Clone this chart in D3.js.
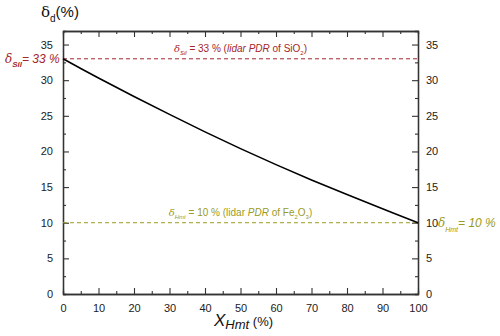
<!doctype html>
<html>
<head>
    <script src="https://d3js.org/d3.v7.min.js"></script>
    <style>
      body { margin: 0; background: #fff; }
      text { font-family: "Liberation Sans", Arial, sans-serif; }
    </style>
</head>
<body>
    <svg id="chart" width="500" height="336"></svg>
    <script>
        // mixing fraction of hematite (%) and resulting depolarization (%)
        const xHmt = [0, 10, 20, 30, 40, 50, 60, 70, 80, 90, 100];
        const deltaD = [33, 30.3, 27.7, 25.2, 22.75, 20.4, 18.15, 16.0, 13.95, 11.95, 10];
        const xTicks = [0, 10, 20, 30, 40, 50, 60, 70, 80, 90, 100];
        const yTicks = [0, 5, 10, 15, 20, 25, 30, 35];
        const deltaSil = 33;
        const deltaHmt = 10;

        const red = "#a3262c";
        const olive = "#9b9a22";

        const margin = { top: 31, right: 82, bottom: 42, left: 63 };
        const width = 500 - margin.left - margin.right;
        const height = 336 - margin.top - margin.bottom;

        const svg = d3.select("#chart");
        const g = svg.append("g")
          .attr("transform", `translate(${margin.left},${margin.top})`);

        const xScale = d3.scaleLinear().domain([0, 100]).range([0, width]);
        const yScale = d3.scaleLinear().domain([0, 36.9]).range([height, 0]);

        // minor ticks
        const xMinor = d3.range(5, 100, 10);
        const yMinor = d3.range(2.5, 37, 5);

        function styleAxis(sel) {
          sel.select(".domain").attr("stroke", "#333").attr("stroke-width", 1.3);
          sel.selectAll(".tick line").attr("stroke", "#333").attr("stroke-width", 1.1);
          sel.selectAll(".tick text").attr("font-size", 11).attr("fill", "#222")
            .attr("font-family", "Liberation Sans, Arial, sans-serif");
        }

        // bottom axis
        g.append("g").attr("transform", `translate(0,${height})`)
          .call(d3.axisBottom(xScale).tickValues(xTicks).tickSizeInner(-6).tickSizeOuter(0).tickPadding(10))
          .call(styleAxis);
        g.append("g").attr("transform", `translate(0,${height})`)
          .call(d3.axisBottom(xScale).tickValues(xMinor).tickSize(-3).tickFormat(""))
          .call(styleAxis);
        // top axis
        g.append("g")
          .call(d3.axisTop(xScale).tickValues(xTicks).tickSizeInner(-6).tickSizeOuter(0).tickFormat(""))
          .call(styleAxis);
        g.append("g")
          .call(d3.axisTop(xScale).tickValues(xMinor).tickSize(-3).tickFormat(""))
          .call(styleAxis);
        // left axis
        g.append("g")
          .call(d3.axisLeft(yScale).tickValues(yTicks).tickSizeInner(-6).tickSizeOuter(0).tickPadding(10))
          .call(styleAxis);
        g.append("g")
          .call(d3.axisLeft(yScale).tickValues(yMinor).tickSize(-3).tickFormat(""))
          .call(styleAxis);
        // right axis
        g.append("g").attr("transform", `translate(${width},0)`)
          .call(d3.axisRight(yScale).tickValues(yTicks).tickSizeInner(-6).tickSizeOuter(0).tickPadding(8))
          .call(styleAxis);
        g.append("g").attr("transform", `translate(${width},0)`)
          .call(d3.axisRight(yScale).tickValues(yMinor).tickSize(-3).tickFormat(""))
          .call(styleAxis);

        // reference lines
        g.append("line")
          .attr("x1", 0).attr("x2", width)
          .attr("y1", yScale(deltaSil)).attr("y2", yScale(deltaSil))
          .attr("stroke", red).attr("stroke-width", 1).attr("stroke-dasharray", "4,3");
        g.append("line")
          .attr("x1", 0).attr("x2", width)
          .attr("y1", yScale(deltaHmt)).attr("y2", yScale(deltaHmt))
          .attr("stroke", olive).attr("stroke-width", 1).attr("stroke-dasharray", "4,3");

        // mixing curve
        const line = d3.line()
          .x((d, i) => xScale(xHmt[i]))
          .y(d => yScale(d))
          .curve(d3.curveCatmullRom);
        g.append("path")
          .datum(deltaD)
          .attr("fill", "none")
          .attr("stroke", "#000")
          .attr("stroke-width", 1.6)
          .attr("d", line);

        // labels on the dashed lines
        const t1 = g.append("text")
          .attr("x", xScale(50)).attr("y", yScale(deltaSil) - 7)
          .attr("text-anchor", "middle").attr("font-size", 10).attr("fill", red);
        t1.append("tspan").attr("font-family", "DejaVu Serif, serif").attr("font-style", "italic").text("δ");
        t1.append("tspan").attr("font-size", 6).attr("font-style", "italic").attr("dy", 3).text("Sil");
        t1.append("tspan").attr("dy", -3).text(" = 33 % (");
        t1.append("tspan").attr("font-style", "italic").text("lidar PDR");
        t1.append("tspan").text(" of SiO");
        t1.append("tspan").attr("font-size", 6).attr("dy", 3).text("2");
        t1.append("tspan").attr("dy", -3).text(")");

        const t2 = g.append("text")
          .attr("x", xScale(50)).attr("y", yScale(deltaHmt) - 7)
          .attr("text-anchor", "middle").attr("font-size", 10).attr("fill", olive);
        t2.append("tspan").attr("font-family", "DejaVu Serif, serif").attr("font-style", "italic").text("δ");
        t2.append("tspan").attr("font-size", 6).attr("font-style", "italic").attr("dy", 3).text("Hmt");
        t2.append("tspan").attr("dy", -3).text(" = 10 % (lidar ");
        t2.append("tspan").attr("font-style", "italic").text("PDR");
        t2.append("tspan").text(" of Fe");
        t2.append("tspan").attr("font-size", 6).attr("dy", 3).text("2");
        t2.append("tspan").attr("dy", -3).text("O");
        t2.append("tspan").attr("font-size", 6).attr("dy", 3).text("3");
        t2.append("tspan").attr("dy", -3).text(")");

        // side labels
        const sl = svg.append("text")
          .attr("x", 5).attr("y", margin.top + yScale(deltaSil) + 4)
          .attr("font-size", 12).attr("font-style", "italic").attr("fill", red);
        sl.append("tspan").attr("font-family", "DejaVu Serif, serif").text("δ");
        sl.append("tspan").attr("font-size", 8).attr("font-weight", "bold").attr("dy", 4).text("Sil");
        sl.append("tspan").attr("dy", -4).text("= 33 %");

        const sr = svg.append("text")
          .attr("x", 438).attr("y", margin.top + yScale(deltaHmt) + 4)
          .attr("font-size", 12).attr("font-style", "italic").attr("fill", olive);
        sr.append("tspan").attr("font-family", "DejaVu Serif, serif").text("δ");
        sr.append("tspan").attr("font-size", 7).attr("dy", 5).text("Hmt");
        sr.append("tspan").attr("dy", -5).text("= 10 %");

        // axis titles
        const yt = svg.append("text")
          .attr("x", 41).attr("y", 17)
          .attr("font-size", 15).attr("fill", "#111");
        yt.append("tspan").attr("font-family", "DejaVu Serif, serif").text("δ");
        yt.append("tspan").attr("font-size", 10).attr("dy", 5).text("d");
        yt.append("tspan").attr("dy", -5).text("(%)");

        const xt = svg.append("text")
          .attr("x", 214).attr("y", 326)
          .attr("font-size", 17).attr("fill", "#111");
        xt.append("tspan").attr("font-style", "italic").text("X");
        xt.append("tspan").attr("font-style", "italic").attr("font-size", 13).attr("dy", 3).text("Hmt");
        xt.append("tspan").attr("font-size", 13).attr("dy", -3).text(" (%)");
    </script>
</body>
</html>
